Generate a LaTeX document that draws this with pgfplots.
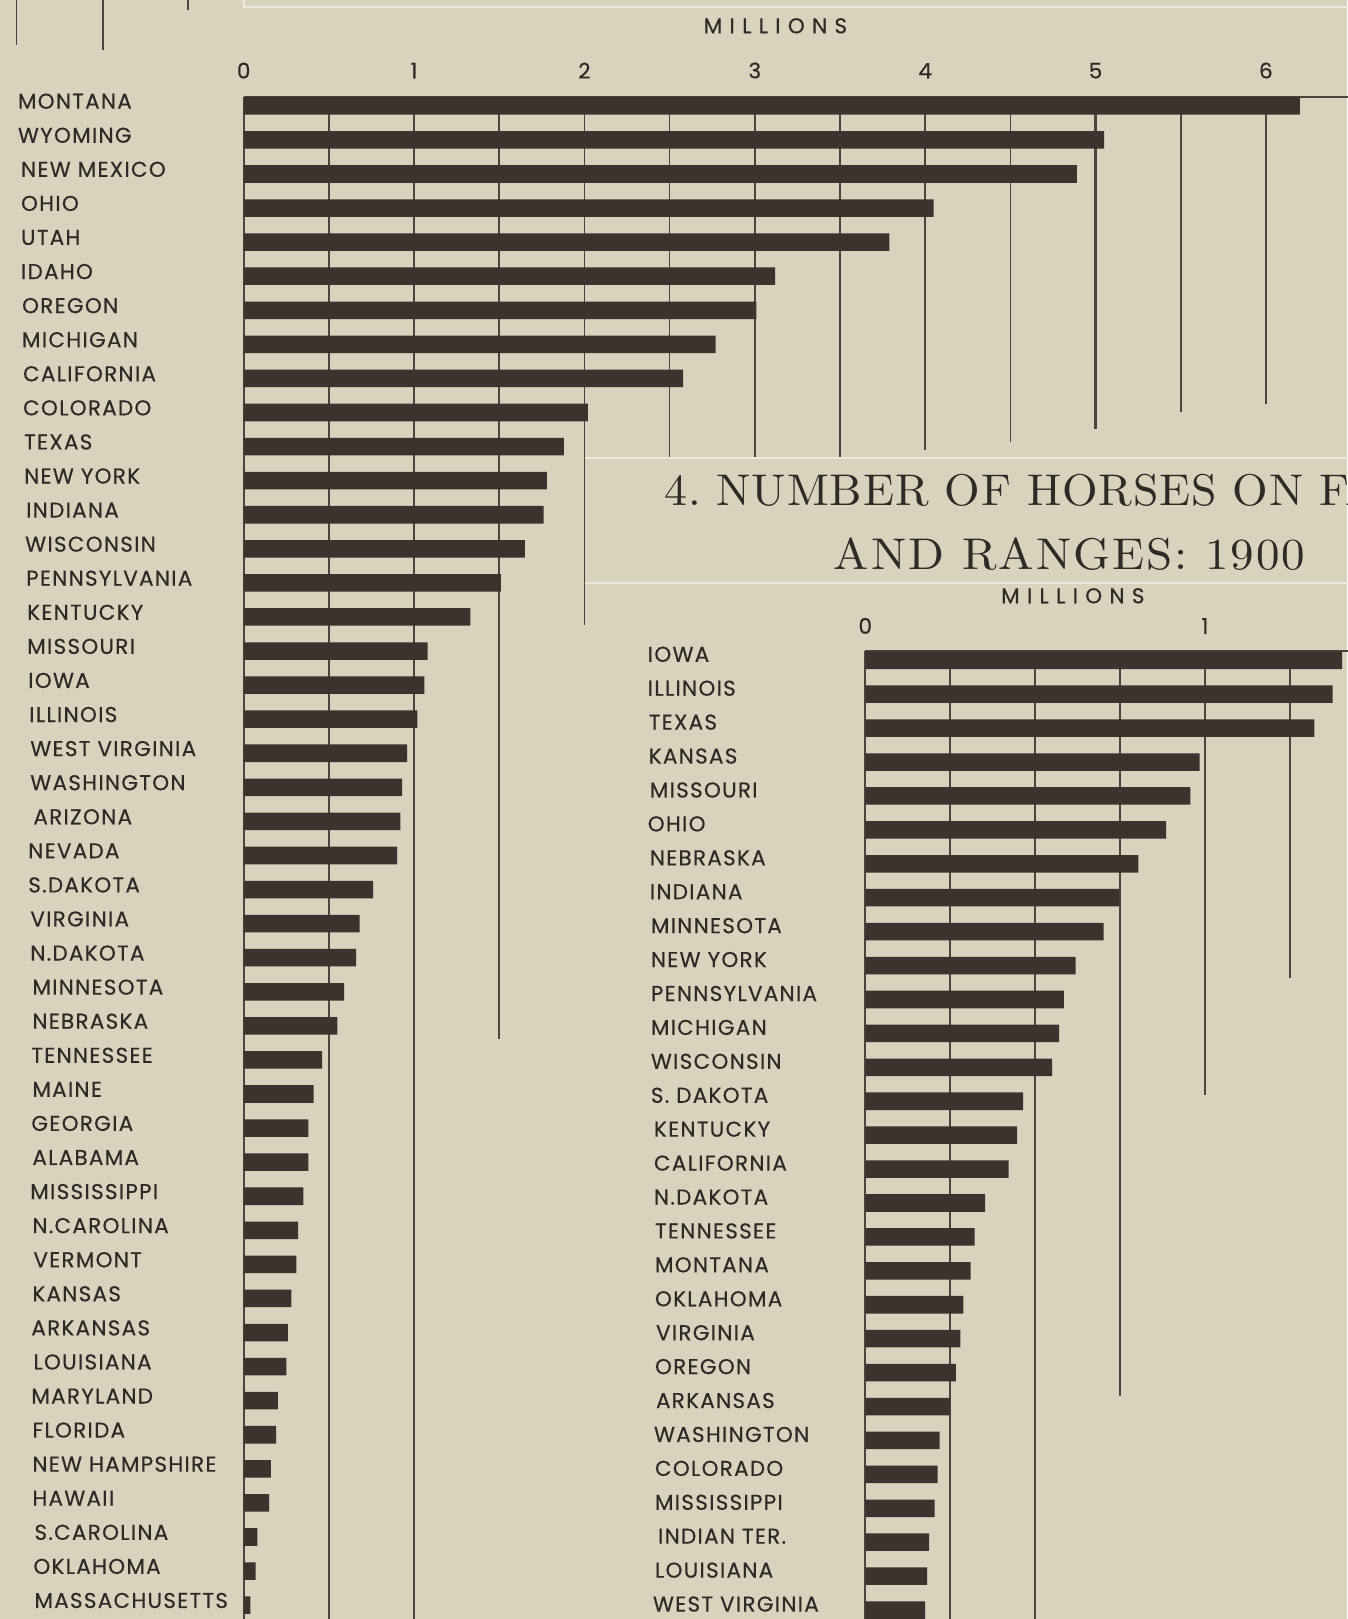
\documentclass[border=0pt]{standalone}
\usepackage{fontspec}
\usepackage{pgfplots}
\usepackage{pgfplotstable}
\pgfplotsset{compat=1.18}

\newfontfamily\labfont[LetterSpace=6, FakeBold=0.4]{Poppins}
\newfontfamily\unitfont[LetterSpace=34, FakeBold=0.4]{Poppins}
\newfontfamily\titlefont[FakeStretch=1.06, LetterSpace=4.5]{lmroman10-regular.otf}
\newfontfamily\titlefontA[FakeStretch=1.03, LetterSpace=1.9]{lmroman10-regular.otf}

\definecolor{paper}{HTML}{D7D3BD}
\definecolor{ink}{HTML}{3A332E}
\definecolor{txt}{HTML}{2E2A26}
\definecolor{rule}{HTML}{4A453F}
\definecolor{light}{HTML}{ECEADF}

% one drawing unit
\newdimen\pxu \pxu=0.5pt
\newcommand\ind[2]{\hspace*{#1\pxu}#2}
\newcommand\labsize{\labfont\fontsize{10.4}{12}\selectfont}
\newcommand\titlesize{\titlefont\fontsize{21.5}{26}\selectfont\frenchspacing}
\newcommand\titlesizeA{\titlefontA\fontsize{21.5}{26}\selectfont\frenchspacing}

% sheep on farms and ranges, 1900 (millions)
\pgfplotstableread{
pos value
0 6.20
-1 5.05
-2 4.89
-3 4.05
-4 3.79
-5 3.12
-6 3.01
-7 2.77
-8 2.58
-9 2.02
-10 1.88
-11 1.78
-12 1.76
-13 1.65
-14 1.51
-15 1.33
-16 1.08
-17 1.06
-18 1.02
-19 0.96
-20 0.93
-21 0.92
-22 0.90
-23 0.76
-24 0.68
-25 0.66
-26 0.59
-27 0.55
-28 0.46
-29 0.41
-30 0.38
-31 0.38
-32 0.35
-33 0.32
-34 0.31
-35 0.28
-36 0.26
-37 0.25
-38 0.20
-39 0.19
-40 0.16
-41 0.15
-42 0.08
-43 0.07
-44 0.04
}\sheep

% horses on farms and ranges, 1900 (millions)
\pgfplotstableread{
pos value
0 1.404
-1 1.376
-2 1.322
-3 0.984
-4 0.957
-5 0.886
-6 0.804
-7 0.748
-8 0.702
-9 0.619
-10 0.585
-11 0.571
-12 0.550
-13 0.465
-14 0.447
-15 0.422
-16 0.353
-17 0.322
-18 0.310
-19 0.289
-20 0.280
-21 0.267
-22 0.249
-23 0.219
-24 0.213
-25 0.204
-26 0.188
-27 0.182
-28 0.176
}\horses

\pgfplotsset{
  ledger/.style={
    scale only axis, clip=false,
    axis line style={draw=none}, major tick length=0pt, tick style={draw=none},
    xticklabel pos=upper,
    xticklabel style={anchor=south, inner sep=0pt, font=\labsize, text=txt},
    yticklabel style={anchor=west, inner sep=0pt, font=\labsize, text=txt},
  },
  grid rule/.style={rule, line width=0.8pt, forget plot},
  bars/.style={xbar, bar width=8.5pt, bar shift=0pt, fill=ink, draw=none},
}

\begin{document}
\begin{tikzpicture}
% page ground, in half-point units measured from the top left corner
\begin{scope}[x=0.5pt,y=-0.5pt]
\fill[paper] (0,0) rectangle (1305,1568);
% remnants of the chart above
\draw[rule, line width=0.8pt] (16,0) -- (16,44);
\draw[rule, line width=0.8pt] (99.5,0) -- (99.5,48);
\draw[rule, line width=0.8pt] (182,0) -- (182,10);
\end{scope}

% ---------------- sheep ----------------
\begin{axis}[ledger,
  at={(118pt,-46.8pt)}, anchor=north west,
  width=544.5pt, height=741.2pt,
  xmin=0, xmax=6.6, ymin=-44.65, ymax=0.27,
  xtick={0,1,2,3,4,5,6}, xticklabels={0,1,2,3,4,5,6},
  xticklabel style={yshift=8.6pt},
  ytick={0,-1,...,-44},
  yticklabel style={xshift=-109.5pt, yshift=2.25pt},
  yticklabels={\ind{0}{MONTANA},\ind{0}{WYOMING},\ind{3}{NEW MEXICO},\ind{3}{OHIO},\ind{3}{UTAH},
    \ind{3}{IDAHO},\ind{4}{OREGON},\ind{4}{MICHIGAN},\ind{5}{CALIFORNIA},\ind{5}{COLORADO},
    \ind{6}{TEXAS},\ind{6}{NEW YORK},\ind{8}{INDIANA},\ind{7}{WISCONSIN},\ind{8}{PENNSYLVANIA},
    \ind{9}{KENTUCKY},\ind{9}{MISSOURI},\ind{10}{IOWA},\ind{11}{ILLINOIS},\ind{12}{WEST VIRGINIA},
    \ind{12}{WASHINGTON},\ind{15}{ARIZONA},\ind{10}{NEVADA},\ind{10}{S.DAKOTA},\ind{12}{VIRGINIA},
    \ind{12}{N.DAKOTA},\ind{14}{MINNESOTA},\ind{14}{NEBRASKA},\ind{13}{TENNESSEE},\ind{14}{MAINE},
    \ind{13}{GEORGIA},\ind{14}{ALABAMA},\ind{12}{MISSISSIPPI},\ind{14}{N.CAROLINA},\ind{15}{VERMONT},
    \ind{14}{KANSAS},\ind{13}{ARKANSAS},\ind{15}{LOUISIANA},\ind{13}{MARYLAND},\ind{14}{FLORIDA},
    \ind{14}{NEW HAMPSHIRE},\ind{14}{HAWAII},\ind{16}{S.CAROLINA},\ind{15}{OKLAHOMA},\ind{16}{MASSACHUSETTS}},
]
% rules at each half million, each running down as far as it is needed
\addplot[grid rule] coordinates {(0.5,0.27) (0.5,-44.65)};
\addplot[grid rule] coordinates {(1.0,0.27) (1.0,-44.65)};
\addplot[grid rule] coordinates {(1.5,0.27) (1.5,-27.38)};
\addplot[grid rule] coordinates {(2.0,0.27) (2.0,-15.23)};
\addplot[grid rule] coordinates {(2.5,0.27) (2.5,-10.35)};
\addplot[grid rule] coordinates {(3.0,0.27) (3.0,-10.35)};
\addplot[grid rule] coordinates {(3.5,0.27) (3.5,-10.35)};
\addplot[grid rule] coordinates {(4.0,0.27) (4.0,-10.1)};
\addplot[grid rule] coordinates {(4.5,0.27) (4.5,-9.86)};
\addplot[grid rule, line width=1.4pt] coordinates {(5.0,0.27) (5.0,-9.47)};
\addplot[grid rule] coordinates {(5.5,0.27) (5.5,-8.98)};
\addplot[grid rule] coordinates {(6.0,0.27) (6.0,-8.74)};
\addplot[grid rule] coordinates {(6.49,0.27) (6.49,-7.5)};
% frame: top rule and base line
\addplot[grid rule, line width=1pt] coordinates {(0,0.27) (6.6,0.27)};
\addplot[grid rule, line width=1pt] coordinates {(0,0.27) (0,-44.65)};
\addplot[bars] table[x=value, y=pos] {\sheep};
\end{axis}

% ---------------- horses ----------------
\begin{axis}[ledger,
  at={(419pt,-315.3pt)}, anchor=north west,
  width=238.5pt, height=477.5pt,
  xmin=0, xmax=1.45, ymin=-28.8, ymax=0.27,
  xtick={0,1}, xticklabels={0,1},
  xticklabel style={yshift=8.2pt},
  ytick={0,-1,...,-28},
  yticklabel style={xshift=-105.5pt, yshift=2.9pt},
  yticklabels={\ind{0}{IOWA},\ind{0}{ILLINOIS},\ind{1}{TEXAS},\ind{1}{KANSAS},\ind{2}{MISSOURI},
    \ind{0}{OHIO},\ind{2}{NEBRASKA},\ind{2}{INDIANA},\ind{3}{MINNESOTA},\ind{3}{NEW YORK},
    \ind{3}{PENNSYLVANIA},\ind{3}{MICHIGAN},\ind{3}{WISCONSIN},\ind{3}{S. DAKOTA},\ind{6}{KENTUCKY},
    \ind{6}{CALIFORNIA},\ind{6}{N.DAKOTA},\ind{7}{TENNESSEE},\ind{7}{MONTANA},\ind{7}{OKLAHOMA},
    \ind{8}{VIRGINIA},\ind{7}{OREGON},\ind{8}{ARKANSAS},\ind{6}{WASHINGTON},\ind{7}{COLORADO},
    \ind{7}{MISSISSIPPI},\ind{10}{INDIAN TER.},\ind{7}{LOUISIANA},\ind{5}{WEST VIRGINIA}},
]
\addplot[grid rule] coordinates {(0.25,0.27) (0.25,-28.8)};
\addplot[grid rule] coordinates {(0.50,0.27) (0.50,-28.8)};
\addplot[grid rule] coordinates {(0.75,0.27) (0.75,-21.69)};
\addplot[grid rule] coordinates {(1.00,0.27) (1.00,-12.83)};
\addplot[grid rule] coordinates {(1.25,0.27) (1.25,-9.36)};
\addplot[grid rule, line width=1pt] coordinates {(0,0.27) (1.45,0.27)};
\addplot[grid rule, line width=1pt] coordinates {(0,0.27) (0,-28.8)};
\addplot[bars] table[x=value, y=pos] {\horses};
\end{axis}

\begin{scope}[x=0.5pt,y=-0.5pt]
% pasted title panel and its pale edges
\draw[light, line width=1pt] (236,-5) -- (236,7) -- (1320,7);
\draw[light, line width=1pt] (567,444) -- (1320,444);
\draw[light, line width=1pt] (567,565) -- (1320,565);

% unit captions
\node[font=\unitfont\fontsize{10.4}{12}\selectfont, text=txt] at (751,25) {MILLIONS};
\node[font=\unitfont\fontsize{10.4}{12}\selectfont, text=txt] at (1039,577) {MILLIONS};

% title of the horse chart
\node[anchor=west, inner sep=0pt, text=txt, font=\titlesizeA]
  at (643,475) {4. NUMBER OF HORSES ON FARMS};
\node[inner sep=0pt, text=txt, font=\titlesize]
  at (1036,537) {AND RANGES: 1900};
\end{scope}

\pgfresetboundingbox
\path (0,0) rectangle (652.5pt,-784pt);
\end{tikzpicture}
\end{document}
